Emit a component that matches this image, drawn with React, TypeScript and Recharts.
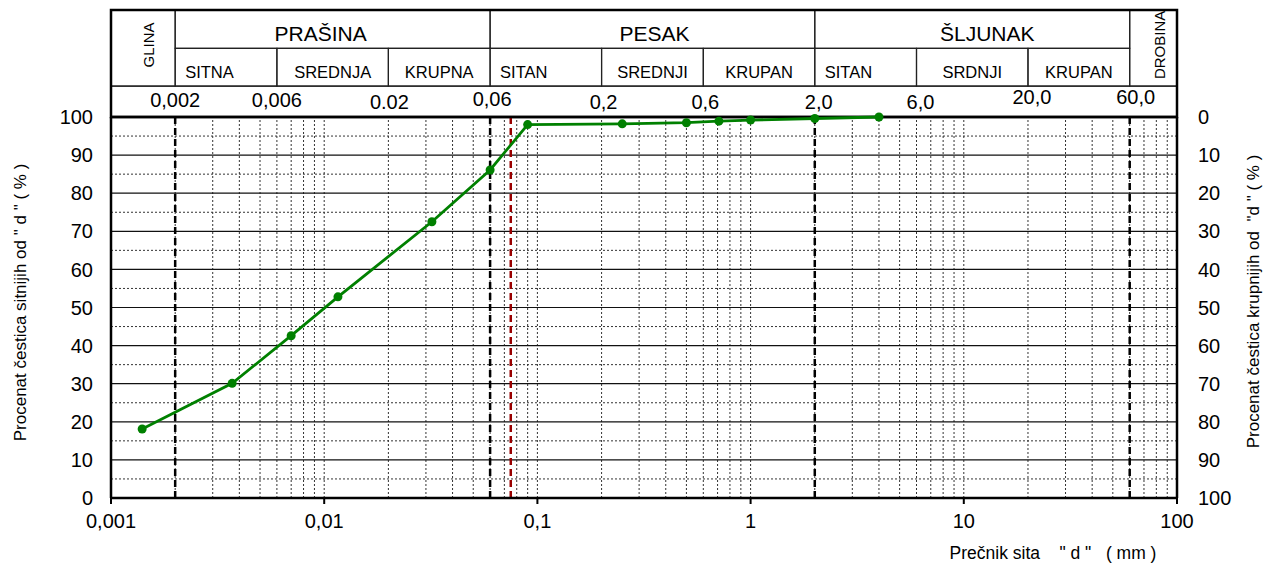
import React from 'react';
import { LineChart, Line, XAxis, YAxis, ReferenceLine, ReferenceArea, ReferenceDot } from 'recharts';

const FONT = '"Liberation Sans", Arial, Helvetica, sans-serif';
const W = 1274;
const H = 565;

// granulometric curve: sieve diameter (mm) vs % passing
const diameters = [0.0014, 0.0037, 0.007, 0.0116, 0.032, 0.06, 0.09, 0.25, 0.5, 0.71, 1.0, 2.0, 4.0];
const passing = [18.1, 30.1, 42.6, 52.8, 72.5, 86.1, 98.0, 98.2, 98.5, 98.9, 99.2, 99.6, 100];

const xTicks = [0.001, 0.01, 0.1, 1, 10, 100];
const xTickLabels = ['0,001', '0,01', '0,1', '1', '10', '100'];
const pctTicks = [0, 10, 20, 30, 40, 50, 60, 70, 80, 90, 100];
const pctMajor = [10, 20, 30, 40, 50, 60, 70, 80, 90];
const pctMinor = [5, 15, 25, 35, 45, 55, 65, 75, 85, 95];
const logGrid = [
  0.002, 0.003, 0.004, 0.005, 0.006, 0.007, 0.008, 0.009, 0.01,
  0.02, 0.03, 0.04, 0.05, 0.06, 0.07, 0.08, 0.09, 0.1,
  0.2, 0.3, 0.4, 0.5, 0.6, 0.7, 0.8, 0.9, 1,
  2, 3, 4, 5, 6, 7, 8, 9, 10,
  20, 30, 40, 50, 60, 70, 80, 90,
];
const fractionLimits = [0.002, 0.06, 2, 60];
const sieve200 = 0.075;

const mainFractions = [
  { name: 'PRAŠINA', from: 0.002, to: 0.06 },
  { name: 'PESAK', from: 0.06, to: 2 },
  { name: 'ŠLJUNAK', from: 2, to: 60 },
];
const subFractions = [
  { name: 'SITNA', from: 0.002, to: 0.006 },
  { name: 'SREDNJA', from: 0.006, to: 0.02 },
  { name: 'KRUPNA', from: 0.02, to: 0.06 },
  { name: 'SITAN', from: 0.06, to: 0.2 },
  { name: 'SREDNJI', from: 0.2, to: 0.6 },
  { name: 'KRUPAN', from: 0.6, to: 2 },
  { name: 'SITAN', from: 2, to: 6 },
  { name: 'SRDNJI', from: 6, to: 20 },
  { name: 'KRUPAN', from: 20, to: 60 },
];
const sideFractions = [
  { name: 'GLINA', from: 0.001, to: 0.002 },
  { name: 'DROBINA', from: 60, to: 100 },
];
const limitValues = [0.002, 0.006, 0.02, 0.06, 0.2, 0.6, 2, 6, 20, 60];
const limitLabels = ['0,002', '0,006', '0.02', '0,06', '0,2', '0,6', '2,0', '6,0', '20,0', '60,0'];

// header band rows, in units of the left axis (drawn above 100 %)
const ROW = { base: 100, r3: 108.1, r2: 118, top: 128.1 };
const subAlign: ('start' | 'middle' | 'end')[] = ['start', 'middle', 'middle', 'start', 'middle', 'middle', 'start', 'middle', 'middle'];
const mainDx = [-12, 2, 15];
const limitDx = [0, 0, 1, 2, 2, 2, 4, 4, 4, 6];
const limitDy = [0, 0, 1.5, -1, 1.5, 1.5, 1.5, 1.5, -3.5, -3.5];

const chartData = diameters.map((d, i) => ({ d, p: passing[i] }));

const cellText = (text: string, size: number, anchor: 'start' | 'middle' | 'end', dx: number, fromBottom: number) =>
  (props: any) => {
    const vb = props.viewBox;
    const x = anchor === 'start' ? vb.x + 10 + dx : anchor === 'end' ? vb.x + vb.width - 8 + dx : vb.x + vb.width / 2 + dx;
    return (
      <text x={x} y={vb.y + vb.height - fromBottom} textAnchor={anchor} fontSize={size} fontFamily={FONT} fill="#000">
        {text}
      </text>
    );
  };

const rotatedText = (text: string, dx: number) => (props: any) => {
  const vb = props.viewBox;
  const cx = vb.x + vb.width / 2 + dx;
  const cy = vb.y + 35;
  return (
    <text x={cx} y={cy} transform={`rotate(-90 ${cx} ${cy})`} textAnchor="middle" dominantBaseline="central"
      fontSize={15} fontFamily={FONT} fill="#000">
      {text}
    </text>
  );
};

const limitText = (text: string, dx: number, dy: number) => (props: any) => {
  const vb = props.viewBox;
  return (
    <text x={vb.x + vb.width / 2 + dx} y={vb.y + vb.height / 2 + 7 + dy} textAnchor="middle" fontSize={20}
      fontFamily={FONT} fill="#000">
      {text}
    </text>
  );
};

const leftTitle = (props: any) => {
  const vb = props.viewBox;
  const cx = vb.x + 20;
  const cy = vb.y + vb.height / 2 - 5;
  return (
    <text x={cx} y={cy} transform={`rotate(-90 ${cx} ${cy})`} textAnchor="middle" dominantBaseline="central"
      fontSize={17} fontFamily={FONT} fill="#000">
      Procenat čestica sitnijih od " d " ( % )
    </text>
  );
};

const rightTitle = (props: any) => {
  const vb = props.viewBox;
  const cx = vb.x + 76;
  const cy = vb.y + vb.height / 2 - 6;
  return (
    <text x={cx} y={cy} transform={`rotate(-90 ${cx} ${cy})`} textAnchor="middle" dominantBaseline="central"
      fontSize={17} fontFamily={FONT} fill="#000">
      {'Procenat čestica krupnijih od \u00a0"d " ( % )'}
    </text>
  );
};

const bottomTitle = (props: any) => {
  const vb = props.viewBox;
  return (
    <text x={vb.x + vb.width - 124} y={vb.y + 61} textAnchor="middle" fontSize={17.5} fontFamily={FONT} fill="#000">
      {'Prečnik sita \u00a0\u00a0\u00a0" d " \u00a0\u00a0( mm )'}
    </text>
  );
};

export default function App() {
  return (
    <div style={{ position: 'absolute', left: 0, top: 0, width: W, height: H, background: '#fff' }}>
      <LineChart width={W} height={H} data={chartData} margin={{ top: 117, right: 0, bottom: 0, left: 0 }}>
        <XAxis
          dataKey="d"
          type="number"
          scale="log"
          domain={[0.001, 100]}
          allowDataOverflow
          ticks={xTicks}
          interval={0}
          tickFormatter={(v: number) => xTickLabels[xTicks.indexOf(v)] ?? String(v)}
          height={67}
          axisLine={{ stroke: '#000', strokeWidth: 2.5 }}
          tickLine={{ stroke: '#000', strokeWidth: 2 }}
          tickSize={6}
          tickMargin={10}
          tick={{ fill: '#000', fontSize: 20, fontFamily: FONT }}
          label={bottomTitle}
        />
        <YAxis
          domain={[0, 100]}
          ticks={pctTicks}
          interval={0}
          width={111}
          axisLine={{ stroke: '#000', strokeWidth: 2.5 }}
          tickLine={false}
          tickSize={10}
          tickMargin={8}
          tick={{ fill: '#000', fontSize: 20, fontFamily: FONT }}
          label={leftTitle}
        />
        <YAxis
          yAxisId="right"
          orientation="right"
          reversed
          type="number"
          domain={[0, 100]}
          allowDataOverflow
          ticks={pctTicks}
          interval={0}
          width={97}
          axisLine={{ stroke: '#000', strokeWidth: 2.5 }}
          tickLine={false}
          tickSize={12}
          tickMargin={9}
          tick={{ fill: '#000', fontSize: 20, fontFamily: FONT, textAnchor: 'start' }}
          label={rightTitle}
        />

        {pctMinor.map((v) => (
          <ReferenceLine key={'pm' + v} y={v} stroke="#333" strokeWidth={1} strokeDasharray="2 2" />
        ))}
        {logGrid.map((v) => (
          <ReferenceLine key={'lg' + v} x={v} stroke="#333" strokeWidth={1} strokeDasharray="2 2" />
        ))}
        {pctMajor.map((v) => (
          <ReferenceLine key={'pM' + v} y={v} stroke="#111" strokeWidth={1.2} />
        ))}
        {fractionLimits.map((v) => (
          <ReferenceLine key={'fl' + v} x={v} stroke="#000" strokeWidth={2.5} strokeDasharray="7 4" />
        ))}
        <ReferenceLine x={sieve200} stroke="#990000" strokeWidth={2.5} strokeDasharray="7 4" />
        <ReferenceLine y={100} stroke="#000" strokeWidth={2.5} />

        {/* header table */}
        {mainFractions.map((f, i) => (
          <ReferenceArea key={'mf' + i} x1={f.from} x2={f.to} y1={ROW.r2} y2={ROW.top} ifOverflow="visible"
            fill="none" fillOpacity={0} stroke="#222" strokeWidth={1.2}
            label={cellText(f.name, 21, 'middle', mainDx[i], 7)} />
        ))}
        {subFractions.map((f, i) => (
          <ReferenceArea key={'sf' + i} x1={f.from} x2={f.to} y1={ROW.r3} y2={ROW.r2} ifOverflow="visible"
            fill="none" fillOpacity={0} stroke="#222" strokeWidth={1.2}
            label={cellText(f.name, 16.5, subAlign[i], 0, 8)} />
        ))}
        {sideFractions.map((f, i) => (
          <ReferenceArea key={'sd' + i} x1={f.from} x2={f.to} y1={ROW.r3} y2={ROW.top} ifOverflow="visible"
            fill="none" fillOpacity={0} stroke="#222" strokeWidth={1.2}
            label={rotatedText(f.name, i === 0 ? 5 : 6)} />
        ))}
        <ReferenceArea x1={0.001} x2={100} y1={ROW.base} y2={ROW.r3} ifOverflow="visible"
          fill="none" fillOpacity={0} stroke="#222" strokeWidth={1.2} />
        {limitValues.map((v, i) => (
          <ReferenceDot key={'lv' + i} x={v} y={(ROW.base + ROW.r3) / 2 + 0.3} r={1} fill="none" stroke="none"
            ifOverflow="visible" label={limitText(limitLabels[i], limitDx[i], limitDy[i])} />
        ))}
        <ReferenceArea x1={0.001} x2={100} y1={ROW.base} y2={ROW.top} ifOverflow="visible"
          fill="none" fillOpacity={0} stroke="#000" strokeWidth={2.5} />

        {/* invisible copy that binds the reversed right axis */}
        <Line
          yAxisId="right"
          type="linear"
          dataKey="p"
          stroke="none"
          dot={false}
          activeDot={false}
          legendType="none"
          isAnimationActive={false}
        />
        <Line
          type="linear"
          dataKey="p"
          stroke="#008000"
          strokeWidth={2.8}
          dot={{ r: 4.5, fill: '#008000', stroke: '#008000', strokeWidth: 0 }}
          activeDot={false}
          isAnimationActive={false}
        />
      </LineChart>
    </div>
  );
}
